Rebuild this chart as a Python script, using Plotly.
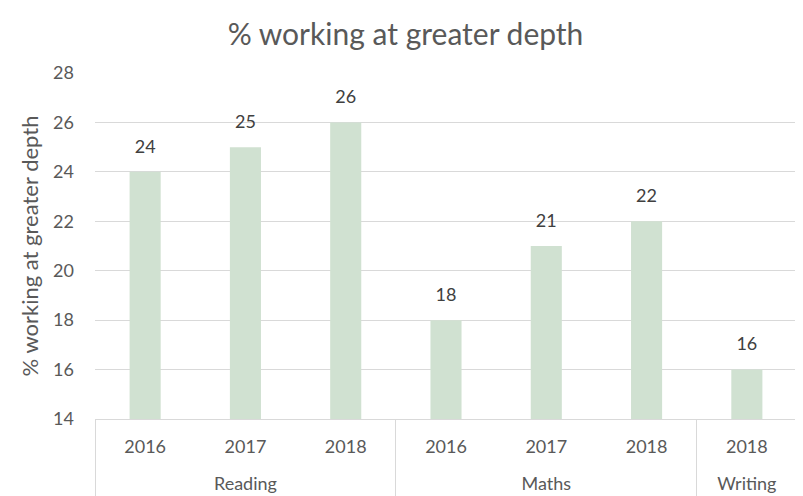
import plotly.graph_objects as go

subjects = ["Reading", "Reading", "Reading", "Maths", "Maths", "Maths", "Writing"]
years = ["2016", "2017", "2018", "2016", "2017", "2018", "2018"]
values = [24, 25, 26, 18, 21, 22, 16]
y_min, y_max, y_step = 14, 28, 2

FONT = "Lato, Open Sans, sans-serif"
GRAY = "#595959"
LINE = "#d9d9d9"

keys = [f"{s} {y}" for s, y in zip(subjects, years)]
n = len(keys)
idx = list(range(n))

# group centres and boundaries (in category index units)
groups, starts = [], []
for i, s in enumerate(subjects):
    if not groups or groups[-1] != s:
        groups.append(s)
        starts.append(i)
ends = starts[1:] + [n]
group_centres = [(a + b - 1) / 2 for a, b in zip(starts, ends)]
boundaries = [a - 0.5 for a in starts] + [n - 0.5]

fig = go.Figure()
fig.add_trace(go.Bar(
    x=keys,
    y=[v - y_min for v in values],
    base=y_min,
    marker=dict(color="#d0e1d1", line=dict(width=0)),
    width=0.31,
    hoverinfo="skip",
))
fig.add_trace(go.Scatter(
    x=idx, y=values, xaxis="x2", yaxis="y",
    mode="markers+text",
    marker=dict(size=22, opacity=0),
    text=[str(v) for v in values],
    textposition="top center",
    textfont=dict(size=18, color="#404040", family=FONT),
    cliponaxis=False,
    hoverinfo="skip",
))
# empty trace so the divider axis is drawn
fig.add_trace(go.Scatter(x=[], y=[], xaxis="x3", yaxis="y", hoverinfo="skip"))

fig.update_layout(
    width=795, height=488,
    margin=dict(l=87, r=6, t=65, b=77, autoexpand=False),
    paper_bgcolor="white", plot_bgcolor="white",
    title=dict(text="% working at greater depth", x=0.5, xanchor="center",
               y=0.945, yanchor="middle",
               font=dict(size=30, color=GRAY, family=FONT)),
    font=dict(family=FONT, color=GRAY, size=18),
    showlegend=False,
    xaxis=dict(
        type="category", range=[-0.5, n - 0.5], automargin=False,
        tickvals=keys, ticktext=years,
        showline=True, linecolor=LINE, linewidth=1,
        ticks="", ticklabelstandoff=11,
        tickfont=dict(size=18, color=GRAY),
        showgrid=False,
    ),
    xaxis2=dict(
        overlaying="x", anchor="y", side="bottom", automargin=False,
        range=[-0.5, n - 0.5], tickvals=group_centres, ticktext=groups,
        ticks="", ticklabelstandoff=52, showgrid=False, showline=False,
        zeroline=False, tickfont=dict(size=18, color=GRAY),
    ),
    xaxis3=dict(
        overlaying="x", anchor="y", side="bottom", automargin=False,
        range=[-0.5, n - 0.5], tickvals=boundaries, showticklabels=False,
        ticks="outside", ticklen=77, tickcolor=LINE, tickwidth=1,
        showgrid=False, showline=False, zeroline=False,
    ),
    yaxis=dict(
        range=[y_min, y_max], dtick=y_step, tick0=y_min, automargin=False,
        showgrid=True, gridcolor=LINE, gridwidth=1,
        zeroline=False, showline=False,
        ticks="", ticklabelstandoff=20,
        tickfont=dict(size=18, color=GRAY),
        title=dict(text="% working at greater depth", font=dict(size=22, color=GRAY), standoff=8),
    ),
)

fig.write_html("out.html")
